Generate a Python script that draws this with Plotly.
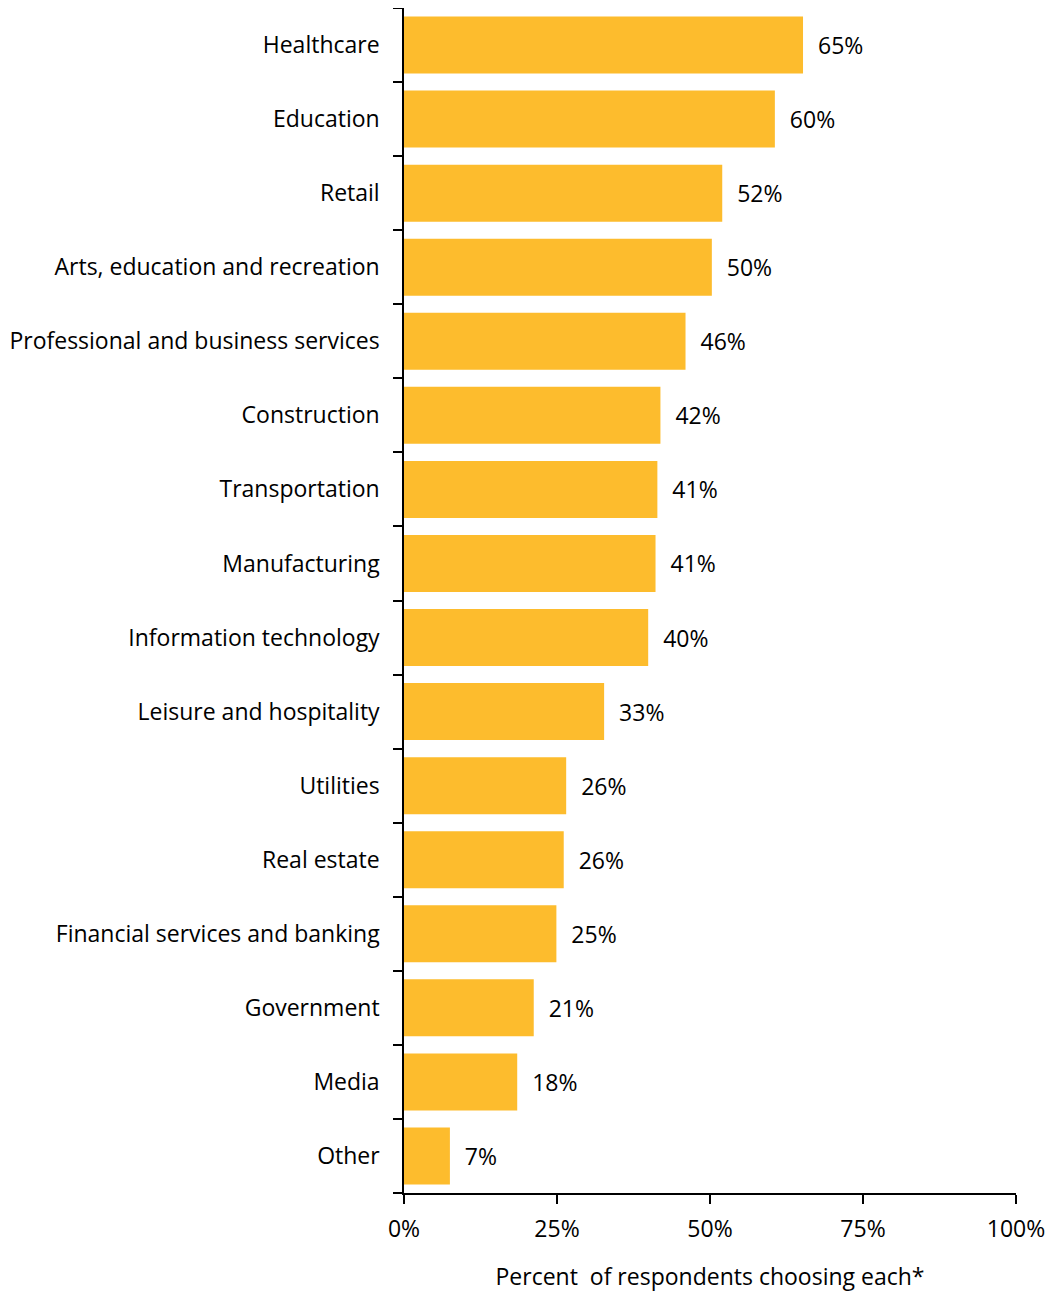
import plotly.graph_objects as go

industries = [
    'Healthcare', 'Education', 'Retail', 'Arts, education and recreation',
    'Professional and business services', 'Construction', 'Transportation',
    'Manufacturing', 'Information technology', 'Leisure and hospitality',
    'Utilities', 'Real estate', 'Financial services and banking',
    'Government', 'Media', 'Other',
]
share = [65.2, 60.6, 52.0, 50.3, 46.0, 41.9, 41.4, 41.1, 39.9, 32.7,
         26.5, 26.1, 24.9, 21.2, 18.5, 7.5]
labels = ['65%', '60%', '52%', '50%', '46%', '42%', '41%', '41%', '40%', '33%',
          '26%', '26%', '25%', '21%', '18%', '7%']
x_ticks = [0, 25, 50, 75, 100]
x_tick_text = ['0%', '25%', '50%', '75%', '100%']

font = dict(family='Open Sans, sans-serif', size=23, color='#000000')

fig = go.Figure(go.Bar(
    x=share,
    y=industries,
    orientation='h',
    marker=dict(color='#FDBC2D', line=dict(width=0)),
    text=['  ' + t for t in labels],
    textposition='outside',
    textfont=font,
    cliponaxis=False,
))

# page body adds ~8px offset, margins compensate for it
fig.update_layout(
    width=1058, height=1293,
    margin=dict(l=396, r=50, t=0, b=108),
    plot_bgcolor='white', paper_bgcolor='white',
    font=font,
    bargap=0.23,
    showlegend=False,
)
fig.update_xaxes(
    range=[0, 100], tickvals=x_ticks, ticktext=x_tick_text,
    showgrid=False, zeroline=False,
    showline=True, linecolor='black', linewidth=1.5,
    ticks='outside', ticklen=9, tickcolor='black', tickwidth=1.5,
    ticklabelstandoff=6,
    title=dict(text='Percent  of respondents choosing each*', standoff=26, font=font),
)
fig.update_yaxes(
    categoryorder='array', categoryarray=industries[::-1],
    showgrid=False, zeroline=False,
    showline=True, linecolor='black', linewidth=1.5,
    ticks='outside', tickson='boundaries', ticklen=9,
    tickcolor='black', tickwidth=1.5,
    ticklabelstandoff=18,
)

fig.write_html('out.html')
